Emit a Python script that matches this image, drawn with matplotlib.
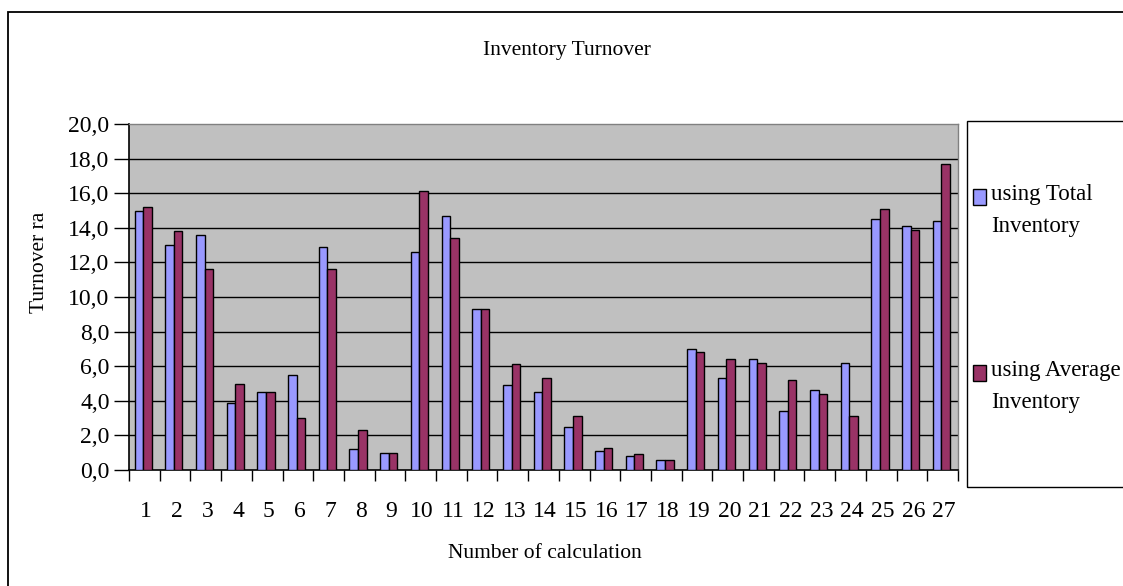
import matplotlib
matplotlib.use('Agg')

import numpy as np
import matplotlib.pyplot as plt
from matplotlib.patches import Rectangle
from matplotlib.ticker import FuncFormatter

plt.rcParams['font.family'] = ['Liberation Serif', 'DejaVu Serif']

# data
calc_numbers = list(range(1, 28))
total_inventory = [15.0, 13.0, 13.6, 3.9, 4.5, 5.5, 12.9, 1.2, 1.0, 12.6,
                   14.7, 9.3, 4.9, 4.5, 2.5, 1.1, 0.8, 0.6, 7.0, 5.3,
                   6.4, 3.4, 4.6, 6.2, 14.5, 14.1, 14.4]
average_inventory = [15.2, 13.8, 11.6, 5.0, 4.5, 3.0, 11.6, 2.3, 1.0, 16.1,
                     13.4, 9.3, 6.1, 5.3, 3.1, 1.3, 0.9, 0.6, 6.8, 6.4,
                     6.2, 5.2, 4.4, 3.1, 15.1, 13.9, 17.7]
series_labels = ['using Total\nInventory', 'using Average\nInventory']
y_ticks = np.arange(0, 21, 2)

BLUE = '#9999FF'
PLUM = '#993366'
W, H = 1123, 586


def fx(px):
    return px / W


def fy(py):
    return 1 - py / H


fig = plt.figure(figsize=(11.23, 5.86), dpi=100)
ax = fig.add_axes([fx(129), fy(470), fx(958 - 129), (470 - 124) / H])
ax.set_facecolor('#C0C0C0')

x = np.arange(len(calc_numbers))
bw = 0.28
b1 = ax.bar(x - bw / 2 - 0.04, total_inventory, bw, color=BLUE,
            edgecolor='black', linewidth=1, zorder=3)
b2 = ax.bar(x + bw / 2 - 0.04, average_inventory, bw, color=PLUM,
            edgecolor='black', linewidth=1, zorder=3)

ax.set_xlim(-0.5, len(calc_numbers) - 0.5)
ax.set_ylim(0, 20)
ax.hlines(y_ticks[1:-1], -0.5, len(calc_numbers) - 0.5, colors='black',
          linewidth=1, zorder=1)

ax.set_yticks(y_ticks)
ax.yaxis.set_major_formatter(FuncFormatter(lambda v, p: f'{v:.1f}'.replace('.', ',')))
ax.tick_params(axis='y', direction='out', length=11, width=1, labelsize=17, pad=3)

ax.set_xticks(x + 0.05)
ax.set_xticklabels([str(c) for c in calc_numbers])
ax.set_xticks(np.arange(-0.5, len(calc_numbers), 1), minor=True)
ax.tick_params(axis='x', which='major', length=0, labelsize=17, pad=22)
ax.tick_params(axis='x', which='minor', direction='out', length=8, width=1)

for s in ['left', 'bottom']:
    ax.spines[s].set_color('black')
    ax.spines[s].set_linewidth(1.2)
for s in ['top', 'right']:
    ax.spines[s].set_color('#808080')
    ax.spines[s].set_linewidth(1)

# texts
fig.text(fx(567), fy(50), 'Inventory Turnover', ha='center', va='center', fontsize=15.5)
fig.text(fx(545), fy(554), 'Number of calculation', ha='center', va='center', fontsize=15.5)
fig.text(fx(40), fy(262), 'Turnover ra', ha='center', va='center', rotation=90, fontsize=15.5)

# outer chart border (runs off the right/bottom edge)
fig.add_artist(Rectangle((fx(8), fy(600)), fx(1130), (600 - 12) / H,
                         transform=fig.transFigure, fill=False,
                         edgecolor='black', linewidth=1.3))

# legend box
fig.add_artist(Rectangle((fx(967), fy(487)), fx(200), (487 - 121) / H,
                         transform=fig.transFigure, fill=False,
                         edgecolor='black', linewidth=1))
for color, label, ycen in [(BLUE, series_labels[0], 197), (PLUM, series_labels[1], 373)]:
    fig.add_artist(Rectangle((fx(973), fy(ycen + 8)), fx(13), 16 / H,
                             transform=fig.transFigure, facecolor=color,
                             edgecolor='black', linewidth=1))
    fig.text(fx(991), fy(ycen - 13), label, ha='left', va='top',
             fontsize=16.5, linespacing=1.7)

fig.savefig('out.png', dpi=100)
